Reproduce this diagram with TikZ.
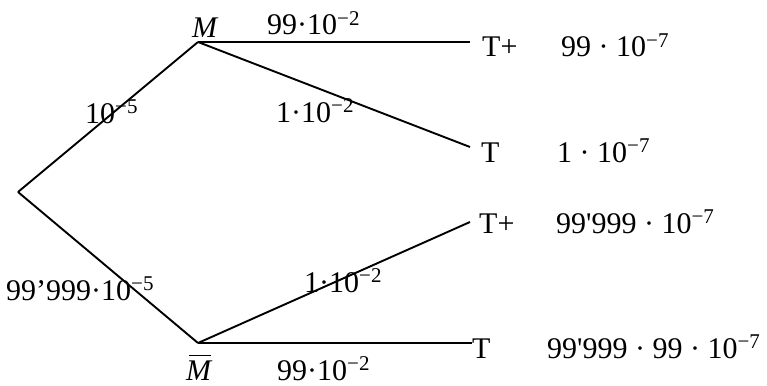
\documentclass[tikz,border=0pt]{standalone}
\usepackage{fontspec}
\setmainfont{Liberation Serif}[Ligatures=TeXOff]
\usetikzlibrary{positioning}

\newcommand{\pw}[1]{\textsuperscript{−#1}}
\newcommand{\Mbar}{\makebox[0pt][l]{\hspace{0.1em}\rule[0.8em]{0.72em}{0.05em}}\textit{M}}

\tikzset{
  branch/.style={line width=1.9pt},
  lab/.style={anchor=base west, inner sep=0pt, font=\fontsize{30}{34}\selectfont}
}

\begin{document}
\begin{tikzpicture}[x=1pt, y=-1pt]

\useasboundingbox (0,0) rectangle (767,385);

% tree points
\coordinate (root) at (18,192);
\coordinate (m) at (198,42);
\coordinate (mbar) at (198,343);
\coordinate (e1) at (470,42);
\coordinate (e2) at (470,147);
\coordinate (e3) at (470,222);
\coordinate (e4) at (472,343);

\draw[branch] (root) -- (m);
\draw[branch] (root) -- (mbar);
\draw[branch] (m) -- (e1);
\draw[branch] (m) -- (e2);
\draw[branch] (mbar) -- (e3);
\draw[branch] (mbar) -- (e4);

\node[lab] (mlab) at (192,38) {\textit{M}};
\node[lab] (mbarlab) at (186,380) {\Mbar};

% branch probabilities
\node[lab] (pm) at (85,123) {10\pw{5}};
\node[lab] (pmbar) at (6,300) {99’999·10\pw{5}};
\node[lab] (p1) at (267,35) {99·10\pw{2}};
\node[lab] (p2) at (276,122) {1·10\pw{2}};
\node[lab] (p3) at (304,292) {1·10\pw{2}};
\node[lab] (p4) at (277,380) {99·10\pw{2}};

% outcomes
\node[lab] (t1) at (482,57) {T+};
\node[lab] (t2) at (481,162) {T};
\node[lab] (t3) at (479,233) {T+};
\node[lab] (t4) at (472,358) {T};

\node[lab] (r1) at (561,57) {99 · 10\pw{7}};
\node[lab] (r2) at (557,162) {1 · 10\pw{7}};
\node[lab] (r3) at (556,233) {99'999 · 10\pw{7}};
\node[lab] (r4) at (547,358) {99'999 · 99 · 10\pw{7}};

\end{tikzpicture}
\end{document}
